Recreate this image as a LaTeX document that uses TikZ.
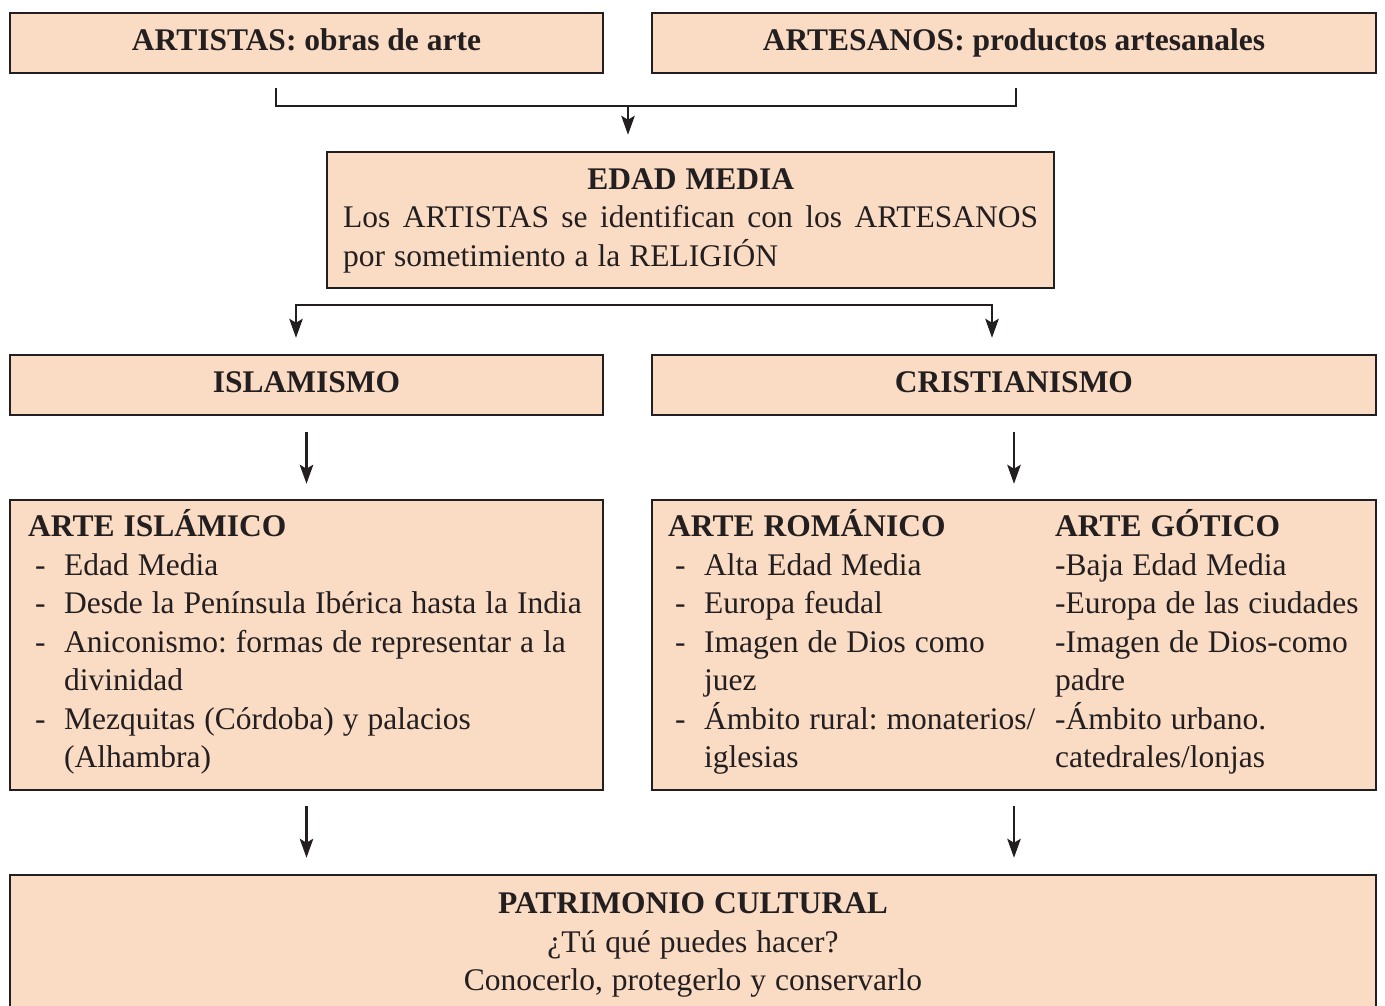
\documentclass[tikz,border=0pt]{standalone}
\usepackage{fontspec}
\setmainfont{Liberation Serif}
\usetikzlibrary{arrows.meta}

\definecolor{peach}{HTML}{FADBC4}
\definecolor{ink}{HTML}{231F20}
\newcommand{\guion}{\hspace*{7pt}\makebox[29pt][l]{-}}
\newcommand{\sangria}{\hspace*{36pt}}
\newcommand{\estrecho}{\spaceskip=9pt\relax}

\begin{document}
\fontsize{31.5}{38.5}\selectfont\frenchspacing
\begin{tikzpicture}[x=1pt,y=-1pt,
  box/.style={draw=ink,fill=peach,line width=2.5pt,inner sep=0pt,font=\bfseries,text=ink,
              text height=24pt,text depth=9pt},
  txt/.style={anchor=base west,inner sep=0pt,align=left,text=ink,execute at begin node=\estrecho},
  link/.style={draw=ink,line width=2.2pt},
  arr/.style={link,-{Stealth[length=19pt,width=13.5pt,inset=4pt]}}]
\useasboundingbox (0,0) rectangle (1385,1006);

% cajas
\node[box,minimum width=593pt,minimum height=60pt]  (art)    at (306.5,43)  {ARTISTAS: obras de arte};
\node[box,minimum width=724pt,minimum height=60pt]  (artes)  at (1014,43)   {ARTESANOS: productos artesanales};
\node[box,minimum width=727pt,minimum height=136pt] (edad)   at (690.5,220) {};
\node[box,minimum width=593pt,minimum height=60pt]  (isl)    at (306.5,385) {ISLAMISMO};
\node[box,minimum width=724pt,minimum height=60pt]  (cri)    at (1014,385)  {CRISTIANISMO};
\node[box,minimum width=593pt,minimum height=290pt] (isla)   at (306.5,645) {};
\node[box,minimum width=724pt,minimum height=290pt] (romgot) at (1014,645)  {};
\node[box,minimum width=1366pt,minimum height=170pt] (pat)   at (693,960)   {};

% textos
\node[txt,text width=695pt] (edadtxt) at (343,189.5)
  {\makebox[695pt]{\bfseries EDAD MEDIA}\\
   \makebox[695pt]{Los\hfill ARTISTAS\hfill se\hfill identifican\hfill con\hfill los\hfill ARTESANOS}\\
   por sometimiento a la RELIGIÓN};
\node[txt,text width=570pt] (islatxt) at (28,536.5)
  {\textbf{ARTE ISLÁMICO}\\
   \guion Edad Media\\
   \guion Desde la Península Ibérica hasta la India\\
   \guion Aniconismo: formas de representar a la\\
   \sangria divinidad\\
   \guion Mezquitas (Córdoba) y palacios\\
   \sangria (Alhambra)};
\node[txt,text width=385pt] (romtxt) at (668,536.5)
  {\textbf{ARTE ROMÁNICO}\\
   \guion Alta Edad Media\\
   \guion Europa feudal\\
   \guion Imagen de Dios como\\
   \sangria juez\\
   \guion Ámbito rural: monaterios/\\
   \sangria iglesias};
\node[txt,text width=320pt] (gottxt) at (1055,536.5)
  {\textbf{ARTE GÓTICO}\\
   -Baja Edad Media\\
   -Europa de las ciudades\\
   -Imagen de Dios-como\\
   padre\\
   -Ámbito urbano.\\
   catedrales/lonjas};
\node[txt,anchor=base,align=center,text width=900pt] (pattxt) at (693,913.5)
  {\textbf{PATRIMONIO CULTURAL}\\
   ¿Tú qué puedes hacer?\\
   Conocerlo, protegerlo y conservarlo};

% conectores
\coordinate (bl) at (276,88);
\coordinate (br) at (1016,88);
\coordinate (jn) at (628,106);
\coordinate (sl) at (296,305);
\coordinate (sr) at (992,305);

\draw[link] (bl) |- (jn) -| (br);
\draw[arr,shorten >=16pt] (jn) -- (jn |- edad.north);
\draw[arr,shorten >=16pt] (sr) -- (sl) -- (sl |- isl.north);
\draw[arr,shorten >=16pt] (sl) -- (sr) -- (sr |- cri.north);
\draw[arr,shorten <=16pt,shorten >=15pt] (isl) -- (isla);
\draw[arr,shorten <=16pt,shorten >=15pt] (cri) -- (romgot);
\draw[arr,shorten <=15pt,shorten >=16pt] (isla) -- (isla.south |- pat.north);
\draw[arr,shorten <=15pt,shorten >=16pt] (romgot) -- (romgot.south |- pat.north);
\end{tikzpicture}
\end{document}
